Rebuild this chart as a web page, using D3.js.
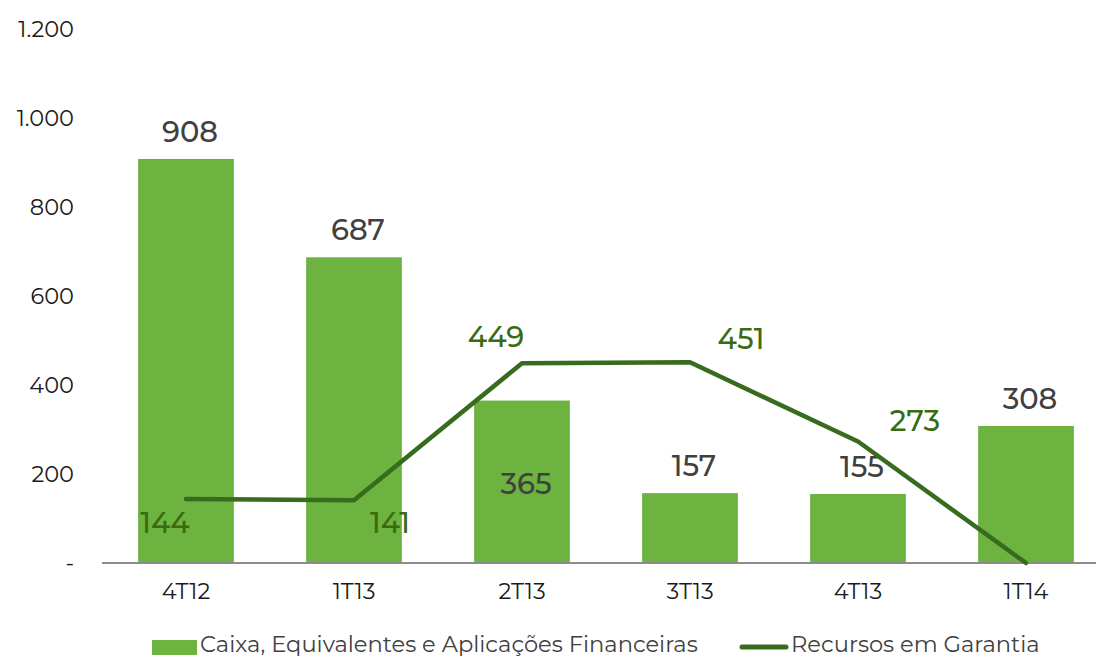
<!doctype html>
<html lang="pt">
<head>
<meta charset="UTF-8">
<script src="https://cdn.jsdelivr.net/npm/d3@7"></script>
<style>
  body { margin: 0; background: #fff; }
  svg text { font-family: "Montserrat", "Noto Sans", sans-serif; }
  .axis text { fill: #1a1a1a; font-size: 22.5px; }
  .axis path, .axis line { stroke: none; }
  .barLabel { fill: #404040; font-size: 29px; font-weight: 500; }
  .lineLabel { fill: #3a6b12; font-size: 29px; font-weight: 500; }
  .legend text { fill: #404040; font-size: 22.6px; }
</style>
</head>
<body>
<svg id="chart" width="1096" height="657"></svg>
<script>
// data
let quarters = ["4T12", "1T13", "2T13", "3T13", "4T13", "1T14"];
let caixa = [908, 687, 365, 157, 155, 308];
let garantia = [144, 141, 449, 451, 273, 0];
let yTicks = [0, 200, 400, 600, 800, 1000, 1200];
let yTickLabels = ["-", "200", "400", "600", "800", "1.000", "1.200"];

// line label offsets (dx, dy from the point) so they sit like the original
let lineLabelOffset = [[-21, 24], [36, 23], [-26, -26], [51, -23], [57, -21], null];

let svg = d3.select("#chart");
let plotLeft = 102, plotRight = 1110, plotTop = 29, plotBottom = 563;

let x = d3.scaleBand().domain(quarters).range([plotLeft, plotRight]).paddingInner(0.43).paddingOuter(0.215);
let y = d3.scaleLinear().domain([0, 1200]).range([plotBottom, plotTop]);

// y axis labels
svg.append("g")
  .attr("class", "axis")
  .attr("transform", "translate(74,0)")
  .call(d3.axisLeft(y).tickValues(yTicks).tickSize(0).tickPadding(0)
    .tickFormat(function(d, i) { return yTickLabels[i]; }))
  .selectAll("text").attr("dy", "0.35em");

// bars
svg.selectAll("rect.bar")
  .data(caixa).enter()
  .append("rect")
  .attr("class", "bar")
  .attr("x", function(d, i) { return x(quarters[i]); })
  .attr("y", function(d) { return y(d); })
  .attr("width", x.bandwidth())
  .attr("height", function(d) { return y(0) - y(d); })
  .attr("fill", "#6db33f");

// x axis
svg.append("line")
  .attr("x1", plotLeft).attr("x2", plotRight)
  .attr("y1", y(0)).attr("y2", y(0))
  .attr("stroke", "#8c8c8c").attr("stroke-width", 2);

svg.append("g")
  .attr("class", "axis")
  .attr("transform", "translate(0," + y(0) + ")")
  .call(d3.axisBottom(x).tickSize(0).tickPadding(20));

// bar labels
svg.selectAll("text.barLabel")
  .data(caixa).enter()
  .append("text")
  .attr("class", "barLabel")
  .attr("text-anchor", "middle")
  .attr("x", function(d, i) { return x(quarters[i]) + x.bandwidth() / 2 + 4; })
  .attr("y", function(d, i) { return i == 2 ? y(d) + 93 : y(d) - 17; })
  .text(function(d) { return d; });

// line
let line = d3.line()
  .x(function(d, i) { return x(quarters[i]) + x.bandwidth() / 2; })
  .y(function(d) { return y(d); });

svg.append("path")
  .datum(garantia)
  .attr("d", line)
  .attr("fill", "none")
  .attr("stroke", "#376b1e")
  .attr("stroke-width", 4.5)
  .attr("stroke-linecap", "round")
  .attr("stroke-linejoin", "round");

// line labels
svg.selectAll("text.lineLabel")
  .data(garantia).enter()
  .append("text")
  .attr("class", "lineLabel")
  .attr("text-anchor", "middle")
  .attr("x", function(d, i) { return lineLabelOffset[i] ? x(quarters[i]) + x.bandwidth() / 2 + lineLabelOffset[i][0] : 0; })
  .attr("y", function(d, i) { return lineLabelOffset[i] ? y(d) + lineLabelOffset[i][1] + 10 : 0; })
  .text(function(d, i) { return lineLabelOffset[i] ? d : ""; });

// legend
let legend = svg.append("g").attr("class", "legend");
legend.append("rect")
  .attr("x", 152).attr("y", 640).attr("width", 45).attr("height", 15)
  .attr("fill", "#6db33f");
legend.append("text")
  .attr("x", 200).attr("y", 652)
  .text("Caixa, Equivalentes e Aplicações Financeiras");
legend.append("line")
  .attr("x1", 742).attr("x2", 786).attr("y1", 647).attr("y2", 647)
  .attr("stroke", "#376b1e").attr("stroke-width", 5).attr("stroke-linecap", "round");
legend.append("text")
  .attr("x", 791).attr("y", 652)
  .text("Recursos em Garantia");
</script>
</body>
</html>
